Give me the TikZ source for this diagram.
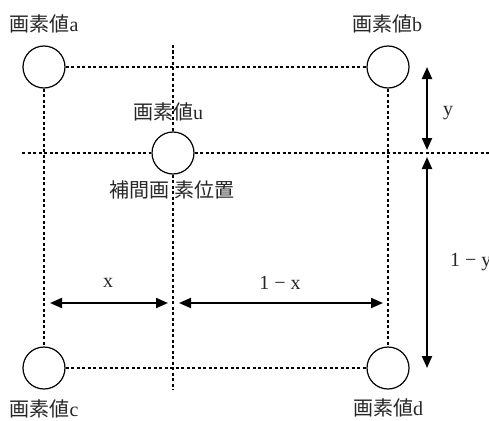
\documentclass[tikz,border=0pt]{standalone}
\usepackage{fontspec}
\setmainfont{Liberation Serif}
\newfontfamily\cjk{Noto Sans CJK JP}
\usetikzlibrary{arrows.meta}
\tikzset{
  px/.style={circle,draw,line width=1.2pt,fill=white,minimum size=42pt,inner sep=0pt},
  gridline/.style={line width=1.9pt,dash pattern=on 3pt off 2.5pt},
  dim/.style={line width=2pt,{Triangle[length=12pt,width=10pt]}-{Triangle[length=12pt,width=10pt]}},
  lbl/.style={font=\fontsize{20}{22}\selectfont,inner sep=0pt,text=black!85}
}

\begin{document}
\begin{tikzpicture}[x=1pt,y=-1pt]
\path[use as bounding box] (0,0) rectangle (489,420);
% pixels
\node[px] (a) at (44,67) {};
\node[px] (b) at (388,67) {};
\node[px] (u) at (173,153) {};
\node[px] (c) at (44,368) {};
\node[px] (d) at (388,368) {};
% grid
\coordinate (hl) at (22,153);
\coordinate (hr) at (489,153);
\coordinate (vt) at (173,45);
\coordinate (vb) at (173,390);
\draw[gridline] (a.east) -- (b.west);
\draw[gridline] (c.east) -- (d.west);
\draw[gridline] (a.south) -- (c.north);
\draw[gridline] (b.south) -- (d.north);
\draw[gridline] (hl) -- (u.west);
\draw[gridline] (u.east) -- (hr);
\draw[gridline] (vt) -- (u.north);
\draw[gridline] (u.south) -- (vb);
% dimensions
\coordinate (y1) at (427,67);
\coordinate (y2) at (427,150);
\coordinate (y3) at (427,157);
\coordinate (y4) at (427,368);
\coordinate (x1) at (50,303);
\coordinate (x2) at (168,303);
\coordinate (x3) at (179,303);
\coordinate (x4) at (383,303);
\draw[dim] (y1) -- (y2);
\draw[dim] (y3) -- (y4);
\draw[dim] (x1) -- (x2);
\draw[dim] (x3) -- (x4);
% labels
\node[lbl] (la) at (44,24) {{\cjk 画素値}a};
\node[lbl] (lb) at (387,24) {{\cjk 画素値}b};
\node[lbl] (lu) at (168,112) {{\cjk 画素値}u};
\node[lbl] (lp) at (172,190) {\cjk 補間画 素位置};
\node[lbl] (lc) at (44,409) {{\cjk 画素値}c};
\node[lbl] (ld) at (388,408) {{\cjk 画素値}d};
\node[lbl] (lx) at (108,283) {x};
\node[lbl] (l1x) at (280,283) {1 − x};
\node[lbl] (ly) at (448,113) {y};
\node[lbl,anchor=west] (l1y) at (450,262) {1 − y};
\end{tikzpicture}
\end{document}
